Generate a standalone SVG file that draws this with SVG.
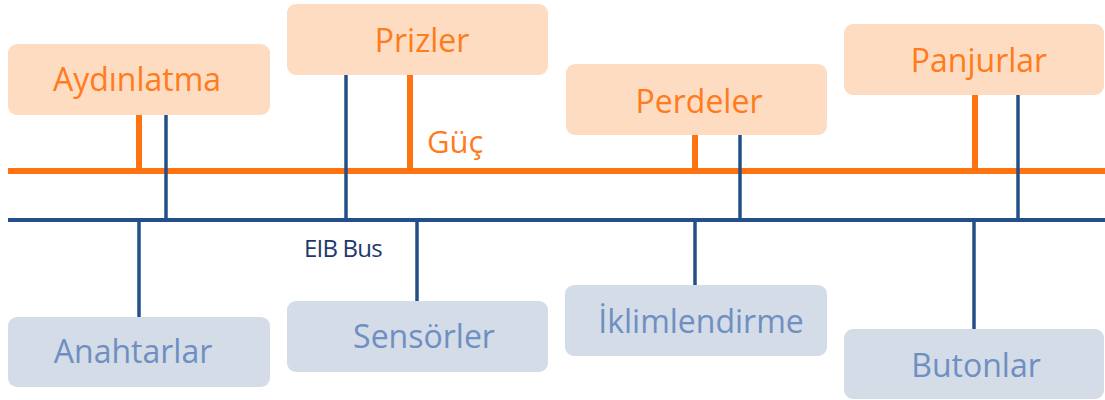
<svg xmlns="http://www.w3.org/2000/svg" width="1105" height="400" viewBox="0 0 1105 400">
  <style>
    .dev-top rect { fill: #fddcc1; }
    .dev-bot rect { fill: #d3dce7; }
    .dev-top text { fill: #ff7b1c; }
    .dev-bot text { fill: #6f8fc3; }
    text { font-family: "Open Sans", "DejaVu Sans", sans-serif; font-size: 32px; text-anchor: middle; }
    .pwr { stroke: #ff7410; stroke-width: 6; fill: none; }
    .bus { stroke: #23508a; stroke-width: 3.5; fill: none; }
    .bus-main { stroke: #23508a; stroke-width: 4; fill: none; }
    .lbl-pwr { fill: #ff7b1c; font-size: 31px; text-anchor: start; }
    .lbl-bus { fill: #1d3a6b; font-size: 24px; letter-spacing: -0.8px; text-anchor: start; }
  </style>

  <rect width="1105" height="400" fill="#ffffff"/>

  <!-- connectors: power line (orange) and EIB bus (blue) with drops -->
  <g id="connectors">
    <line class="pwr" x1="8" y1="171" x2="1105" y2="171"/>
    <line class="bus-main" x1="8" y1="220" x2="1105" y2="220"/>

    <!-- power drops -->
    <line class="pwr" x1="139" y1="115" x2="139" y2="171"/>
    <line class="pwr" x1="410" y1="75" x2="410" y2="171"/>
    <line class="pwr" x1="695" y1="135" x2="695" y2="171"/>
    <line class="pwr" x1="975" y1="95" x2="975" y2="171"/>

    <!-- bus drops to upper devices -->
    <line class="bus" x1="166" y1="115" x2="166" y2="220"/>
    <line class="bus" x1="346" y1="75" x2="346" y2="220"/>
    <line class="bus" x1="740" y1="135" x2="740" y2="220"/>
    <line class="bus" x1="1018" y1="95" x2="1018" y2="220"/>

    <!-- bus drops to lower devices -->
    <line class="bus" x1="139" y1="220" x2="139" y2="318"/>
    <line class="bus" x1="417" y1="220" x2="417" y2="301"/>
    <line class="bus" x1="695" y1="220" x2="695" y2="285"/>
    <line class="bus" x1="974" y1="220" x2="974" y2="329"/>

    <text class="lbl-pwr" x="427" y="153">Güç</text>
    <text class="lbl-bus" x="304" y="257">EIB Bus</text>
  </g>

  <!-- powered devices -->
  <g id="aydinlatma" class="dev-top">
    <rect x="8" y="44" width="262" height="71" rx="9"/>
    <text x="137" y="91">Aydınlatma</text>
  </g>
  <g id="prizler" class="dev-top">
    <rect x="287" y="4" width="261" height="71" rx="9"/>
    <text x="422" y="52">Prizler</text>
  </g>
  <g id="perdeler" class="dev-top">
    <rect x="566" y="64" width="261" height="71" rx="9"/>
    <text x="699" y="113">Perdeler</text>
  </g>
  <g id="panjurlar" class="dev-top">
    <rect x="844" y="24" width="260" height="71" rx="9"/>
    <text x="979" y="72">Panjurlar</text>
  </g>

  <!-- bus devices -->
  <g id="anahtarlar" class="dev-bot">
    <rect x="8" y="317" width="262" height="70" rx="9"/>
    <text x="133" y="363">Anahtarlar</text>
  </g>
  <g id="sensorler" class="dev-bot">
    <rect x="287" y="301" width="261" height="71" rx="9"/>
    <text x="424" y="348">Sensörler</text>
  </g>
  <g id="iklimlendirme" class="dev-bot">
    <rect x="565" y="285" width="262" height="71" rx="9"/>
    <text x="701" y="333">İklimlendirme</text>
  </g>
  <g id="butonlar" class="dev-bot">
    <rect x="844" y="329" width="260" height="70" rx="9"/>
    <text x="976" y="377">Butonlar</text>
  </g>
</svg>
